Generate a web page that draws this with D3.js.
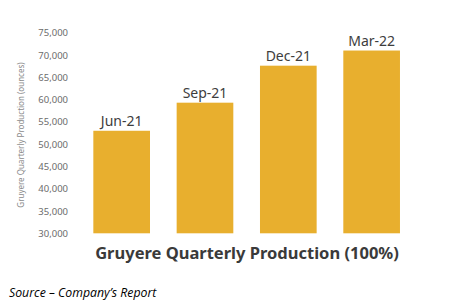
<!DOCTYPE html>
<html>
<head>
<meta charset="utf-8">
<script src="https://cdn.jsdelivr.net/npm/d3@7"></script>
<style>
  body { margin: 0; background: #fff; }
  svg { display: block; }
</style>
</head>
<body>
<svg id="chart" width="449" height="307"></svg>
<script>
// quarterly production, ounces
var quarters = ["Jun-21", "Sep-21", "Dec-21", "Mar-22"];
var ounces = [53000, 59300, 67600, 71000];
var yTicks = [30000, 35000, 40000, 45000, 50000, 55000, 60000, 65000, 70000, 75000];

var svg = d3.select("#chart");

var x = d3.scaleBand()
    .domain(quarters)
    .range([80, 413.3])
    .paddingInner(0.32)
    .paddingOuter(0.16);

var y = d3.scaleLinear()
    .domain([30000, 75000])
    .range([233.3, 32.7]);

var yAxis = d3.axisLeft(y)
    .tickValues(yTicks)
    .tickFormat(d3.format(","))
    .tickSize(0)
    .tickPadding(0);

var gy = svg.append("g")
    .attr("transform", "translate(68,0)")
    .call(yAxis);
gy.select(".domain").remove();
gy.selectAll("text")
    .attr("fill", "#6b6b6b")
    .attr("font-family", "Noto Sans")
    .attr("font-size", 9.5);

svg.append("g").selectAll("rect")
    .data(quarters)
    .join("rect")
    .attr("x", function(d){ return x(d); })
    .attr("y", function(d, i){ return y(ounces[i]); })
    .attr("width", x.bandwidth())
    .attr("height", function(d, i){ return y(30000) - y(ounces[i]); })
    .attr("fill", "#e8af2e");

svg.append("g").selectAll("text")
    .data(quarters)
    .join("text")
    .attr("x", function(d){ return x(d) + x.bandwidth() / 2; })
    .attr("y", function(d, i){ return y(ounces[i]) - 5; })
    .attr("text-anchor", "middle")
    .attr("fill", "#3d3d3d")
    .attr("font-family", "Noto Sans")
    .attr("font-size", 14)
    .text(function(d){ return d; });

svg.append("text")
    .attr("transform", "translate(24,135) rotate(-90)")
    .attr("text-anchor", "middle")
    .attr("fill", "#8a8a8a")
    .attr("font-family", "Noto Sans")
    .attr("font-size", 8)
    .text("Gruyere Quarterly Production (ounces)");

svg.append("text")
    .attr("x", 247)
    .attr("y", 259)
    .attr("text-anchor", "middle")
    .attr("fill", "#3a3a3a")
    .attr("font-family", "Noto Sans")
    .attr("font-weight", "bold")
    .attr("font-size", 16.5)
    .text("Gruyere Quarterly Production (100%)");

svg.append("text")
    .attr("x", 9)
    .attr("y", 297)
    .attr("fill", "#000")
    .attr("font-family", "Open Sans")
    .attr("font-style", "italic")
    .attr("font-size", 12.3)
    .text("Source \u2013 Company\u2019s Report");
</script>
</body>
</html>
